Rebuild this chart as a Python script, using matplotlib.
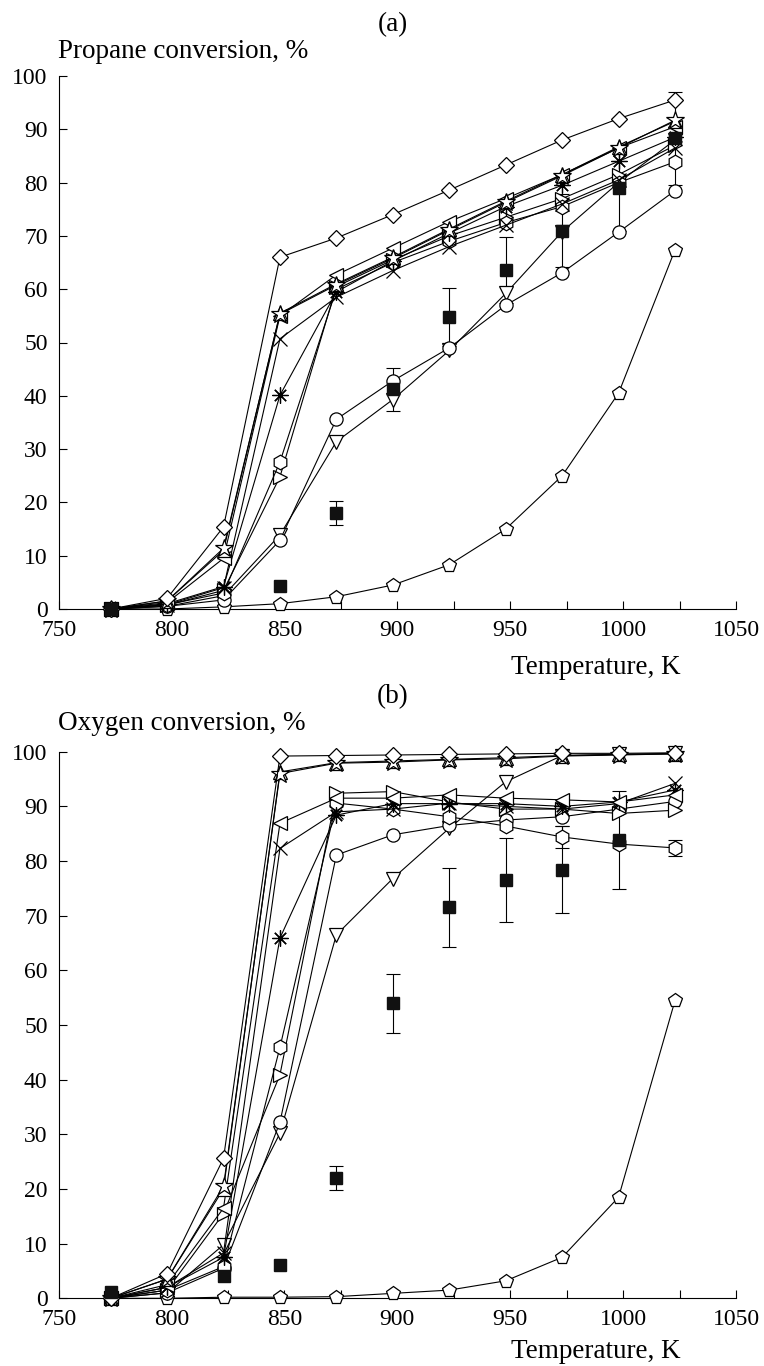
import numpy as np
import matplotlib
matplotlib.use("Agg")
import matplotlib.pyplot as plt

plt.rcParams["font.family"] = ["Liberation Serif", "DejaVu Serif"]

# temperatures, K
temps = [773, 798, 823, 848, 873, 898, 923, 948, 973, 998, 1023]

# (a) propane conversion, %
prop_diamond = [0, 2.0, 15.4, 66.0, 69.6, 74.0, 78.6, 83.3, 88.0, 92.0, 95.5]
prop_star = [0, 1.5, 11.4, 55.3, 60.8, 65.8, 71.1, 76.3, 81.3, 86.5, 91.7]
prop_uptri = [0, 1.5, 11.0, 55.5, 61.0, 66.0, 71.3, 76.5, 81.5, 86.7, 91.5]
prop_ltri = [0, 1.2, 9.5, 55.0, 62.7, 67.7, 72.7, 77.0, 81.5, 86.5, 90.5]
prop_aster = [0, 1.0, 4.2, 40.1, 59.5, 65.3, 70.5, 75.5, 79.5, 84.0, 88.5]
prop_x = [0, 0.8, 4.0, 50.7, 58.5, 63.5, 68.0, 72.0, 76.0, 80.5, 86.5]
prop_hex = [0, 0.8, 3.0, 27.6, 60.0, 65.0, 69.0, 72.5, 75.5, 80.0, 83.9]
prop_rtri = [0, 0.7, 3.5, 24.8, 60.5, 65.5, 70.0, 73.5, 77.0, 81.5, 87.0]
prop_circle = [0, 0.5, 1.7, 12.9, 35.6, 42.8, 49.0, 57.0, 63.1, 70.7, 78.5]
prop_dtri = [0, 0.5, 2.5, 13.9, 31.4, 39.3, 48.5, 59.2, 70.8, 80.0, 88.0]
prop_pent = [0, 0, 0.4, 1.0, 2.3, 4.5, 8.3, 15.0, 25.0, 40.5, 67.4]
prop_sq_t = [773, 848, 873, 898, 923, 948, 973, 998, 1023]
prop_sq = [0, 4.3, 18.0, 41.2, 54.8, 63.6, 71.0, 78.9, 88.3]
prop_sq_err = [0, 0, 2.2, 4.0, 5.4, 6.2, 6.8, 8.0, 8.7]

# (b) oxygen conversion, %
oxy_diamond = [0, 4.5, 25.6, 99.2, 99.3, 99.4, 99.5, 99.6, 99.7, 99.7, 99.8]
oxy_star = [0, 3.5, 20.5, 96.0, 97.9, 98.1, 98.5, 98.7, 99.2, 99.4, 99.6]
oxy_uptri = [0, 3.5, 20.0, 96.3, 98.0, 98.3, 98.6, 98.9, 99.3, 99.5, 99.6]
oxy_ltri = [0, 2.5, 16.5, 86.9, 91.5, 91.5, 92.1, 91.5, 91.2, 90.8, 92.1]
oxy_aster = [0, 2.0, 7.5, 65.9, 88.4, 90.5, 90.5, 90.5, 90.0, 90.8, 93.0]
oxy_x = [0, 2.0, 8.3, 82.3, 89.0, 89.5, 90.6, 90.0, 89.5, 90.5, 94.2]
oxy_hex = [0, 1.5, 5.8, 45.9, 90.6, 89.5, 88.1, 86.4, 84.4, 83.1, 82.4]
oxy_rtri = [0, 1.5, 15.5, 40.9, 92.4, 92.7, 90.8, 89.5, 89.5, 88.7, 89.3]
oxy_circle = [0, 1.0, 5.5, 32.2, 81.1, 84.8, 86.5, 87.5, 88.1, 89.5, 90.9]
oxy_dtri = [0, 1.0, 9.8, 30.2, 66.5, 76.8, 86.0, 94.5, 99.3, 99.5, 99.7]
oxy_pent = [0, 0, 0.2, 0.2, 0.3, 0.9, 1.5, 3.2, 7.5, 18.5, 54.5]
oxy_sq_t = [773, 823, 848, 873, 898, 923, 948, 973, 998]
oxy_sq = [1.2, 4.0, 6.1, 22.0, 54.0, 71.5, 76.5, 78.4, 83.8]
oxy_sq_err = [0, 0, 0, 2.2, 5.4, 7.2, 7.7, 8.0, 9.0]
oxy_hex_err = [0, 0, 0, 0, 0, 0, 0, 0, 2.0, 0, 1.5]

styles = {
    "pent": dict(marker="p", ms=10.5),
    "dtri": dict(marker="v", ms=10.5),
    "circle": dict(marker="o", ms=9.5),
    "rtri": dict(marker=">", ms=10.5),
    "hex": dict(marker="h", ms=10.5),
    "x": dict(marker="x", ms=10.5),
    "aster": dict(marker=(8, 2, 0), ms=11.5),
    "ltri": dict(marker="<", ms=10.5),
    "uptri": dict(marker="^", ms=9.5),
    "star": dict(marker="*", ms=13.5),
    "diamond": dict(marker="D", ms=8.5),
}


def draw_panel(ax, series, sq_t, sq, sq_err, extra_err=None):
    for key, vals in series:
        ax.plot(temps, vals, color="black", lw=0.8, mfc="white", mec="black",
                mew=0.9, clip_on=False, zorder=3, **styles[key])
        if extra_err is not None and key == extra_err[0]:
            err = np.array(extra_err[1])
            idx = err > 0
            ax.errorbar(np.array(temps)[idx], np.array(vals)[idx], yerr=err[idx],
                        fmt="none", ecolor="black", elinewidth=0.8, capsize=5,
                        capthick=0.8, zorder=2)
    sq_t = np.array(sq_t)
    sq = np.array(sq)
    sq_err = np.array(sq_err)
    ax.plot(sq_t, sq, ls="none", marker="s", ms=8.5, color="#111111",
            clip_on=False, zorder=4)
    idx = sq_err > 0
    ax.errorbar(sq_t[idx], sq[idx], yerr=sq_err[idx], fmt="none", ecolor="black",
                elinewidth=0.8, capsize=5, capthick=0.8, zorder=2)

    ax.set_xlim(750, 1050)
    ax.set_ylim(0, 100)
    ax.set_xticks(range(750, 1051, 50))
    ax.set_xticks(range(775, 1050, 50), minor=True)
    ax.set_yticks(range(0, 101, 10))
    ax.spines["top"].set_visible(False)
    ax.spines["right"].set_visible(False)
    for s in ("left", "bottom"):
        ax.spines[s].set_linewidth(0.8)
    ax.tick_params(which="both", direction="in", length=6, width=0.8,
                   labelsize=17)
    ax.tick_params(axis="x", which="major", pad=8)
    ax.tick_params(axis="y", pad=8)


fig = plt.figure(figsize=(7.64, 13.66), dpi=100)
W, H = 764, 1366
ax_a = fig.add_axes([58.7 / W, 1 - 609 / H, (736 - 58.7) / W, 533 / H])
ax_b = fig.add_axes([58.7 / W, 1 - 1298.3 / H, (736 - 58.7) / W, 546.6 / H])

draw_panel(ax_a, [("pent", prop_pent), ("dtri", prop_dtri), ("circle", prop_circle),
                  ("rtri", prop_rtri), ("hex", prop_hex), ("x", prop_x),
                  ("aster", prop_aster), ("ltri", prop_ltri), ("uptri", prop_uptri),
                  ("star", prop_star), ("diamond", prop_diamond)],
           prop_sq_t, prop_sq, prop_sq_err)

draw_panel(ax_b, [("pent", oxy_pent), ("dtri", oxy_dtri), ("circle", oxy_circle),
                  ("rtri", oxy_rtri), ("hex", oxy_hex), ("x", oxy_x),
                  ("aster", oxy_aster), ("ltri", oxy_ltri), ("uptri", oxy_uptri),
                  ("star", oxy_star), ("diamond", oxy_diamond)],
           oxy_sq_t, oxy_sq, oxy_sq_err, extra_err=("hex", oxy_hex_err))

fs = 19.5
fig.text(393 / W, 1 - 25 / H, "(a)", ha="center", va="center", fontsize=fs)
fig.text(58 / W, 1 - 52 / H, "Propane conversion, %", ha="left", va="center",
         fontsize=fs)
fig.text(681 / W, 1 - 668 / H, "Temperature, K", ha="right", va="center",
         fontsize=fs)
fig.text(393 / W, 1 - 697 / H, "(b)", ha="center", va="center", fontsize=fs)
fig.text(58 / W, 1 - 724 / H, "Oxygen conversion, %", ha="left", va="center",
         fontsize=fs)
fig.text(681 / W, 1 - 1352 / H, "Temperature, K", ha="right", va="center",
         fontsize=fs)

fig.savefig("out.png", dpi=100)
